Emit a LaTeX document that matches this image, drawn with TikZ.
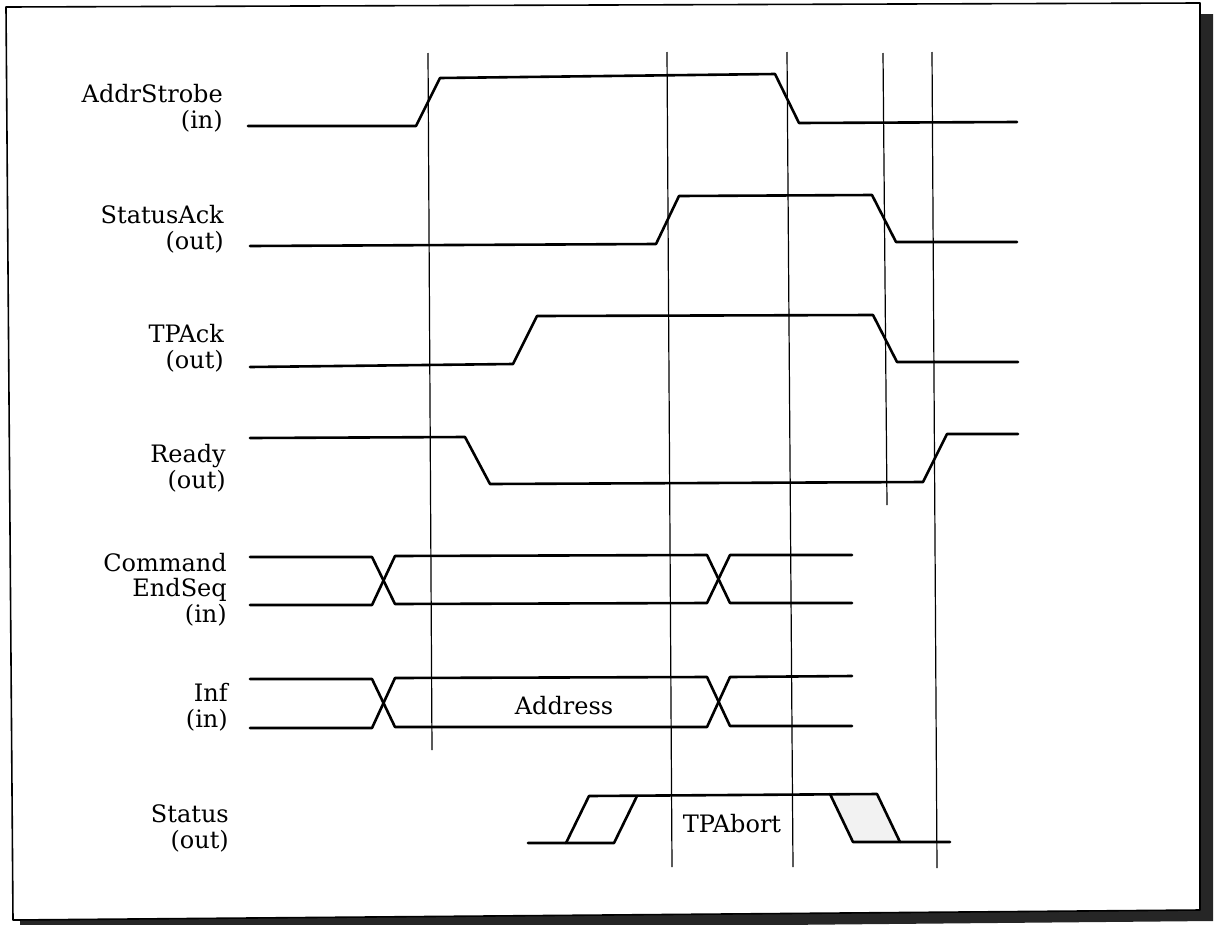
\documentclass[tikz,border=0pt]{standalone}
\usepackage{fontspec}
\setmainfont{DejaVu Serif}
\begin{document}
\begin{tikzpicture}[x=1pt,y=-1pt,
  wave/.style={line width=2.6pt, line join=round, line cap=round},
  vline/.style={line width=1.2pt},
  frame/.style={line width=1.6pt, line join=round},
  shadow/.style={fill=black!85},
  lab/.style={anchor=base east, align=right, inner sep=0pt, font=\fontsize{24}{25.5}\selectfont},
  txt/.style={anchor=base, inner sep=0pt, font=\fontsize{24}{25.5}\selectfont}]
\useasboundingbox (0,0) rectangle (1218,924);
% shadow and frame
\fill[shadow] (1200,14) -- (1213,14) -- (1213,921) -- (20,932) -- (20,919) -- (1200,910) -- cycle;
\draw[frame, fill=white] (6,7) -- (1200,3) -- (1200,910) -- (13,920) -- cycle;

% labels (base = baseline of last line)
\node[lab] (lAS) at (223,128) {AddrStrobe\\(in)};
\node[lab] (lSA) at (224,249) {StatusAck\\(out)};
\node[lab] (lTP) at (224,368) {TPAck\\(out)};
\node[lab] (lRd) at (226,488) {Ready\\(out)};
\node[lab] (lCE) at (227,622) {Command\\EndSeq\\(in)};
\node[lab] (lIn) at (228,727) {Inf\\(in)};
\node[lab] (lSt) at (229,848) {Status\\(out)};

% vertical timing lines
\draw[vline] (428,53) -- (432,750);
\draw[vline] (667,52) -- (672,867);
\draw[vline] (787,52) -- (793,867);
\draw[vline] (883,53) -- (887,505);
\draw[vline] (932,52) -- (937,868);

% AddrStrobe
\draw[wave] (248,126) -- (416,126) -- (440,78) -- (775,74) -- (799,123) -- (1017,122);
% StatusAck
\draw[wave] (250,246) -- (656,244) -- (679,196) -- (872,195) -- (896,242) -- (1017,242);
% TPAck
\draw[wave] (250,367) -- (513,364) -- (537,316) -- (873,315) -- (897,362) -- (1018,362);
% Ready
\draw[wave] (250,438) -- (465,437) -- (490,484) -- (923,482) -- (947,434) -- (1018,434);

% Command EndSeq
\draw[wave] (250,557) -- (372,557) -- (395,604) -- (707,603) -- (730,555) -- (852,555);
\draw[wave] (250,605) -- (372,605) -- (395,556) -- (707,555) -- (730,603) -- (852,603);

% Inf
\draw[wave] (250,679) -- (372,679) -- (395,727) -- (707,727) -- (730,677) -- (852,676);
\draw[wave] (250,728) -- (372,728) -- (395,678) -- (707,677) -- (730,726) -- (852,726);
\node[txt] (addr) at (564,714) {Address};

% Status
\fill[black!5] (830,794) -- (877,794) -- (900,842) -- (853,842) -- cycle;
\draw[wave] (528,843) -- (614,843) -- (637,796);
\draw[wave] (566,843) -- (589,796) -- (877,794) -- (900,842);
\draw[wave] (830,794) -- (853,842) -- (950,842);
\node[txt] (tpab) at (732,832) {TPAbort};
\end{tikzpicture}
\end{document}
